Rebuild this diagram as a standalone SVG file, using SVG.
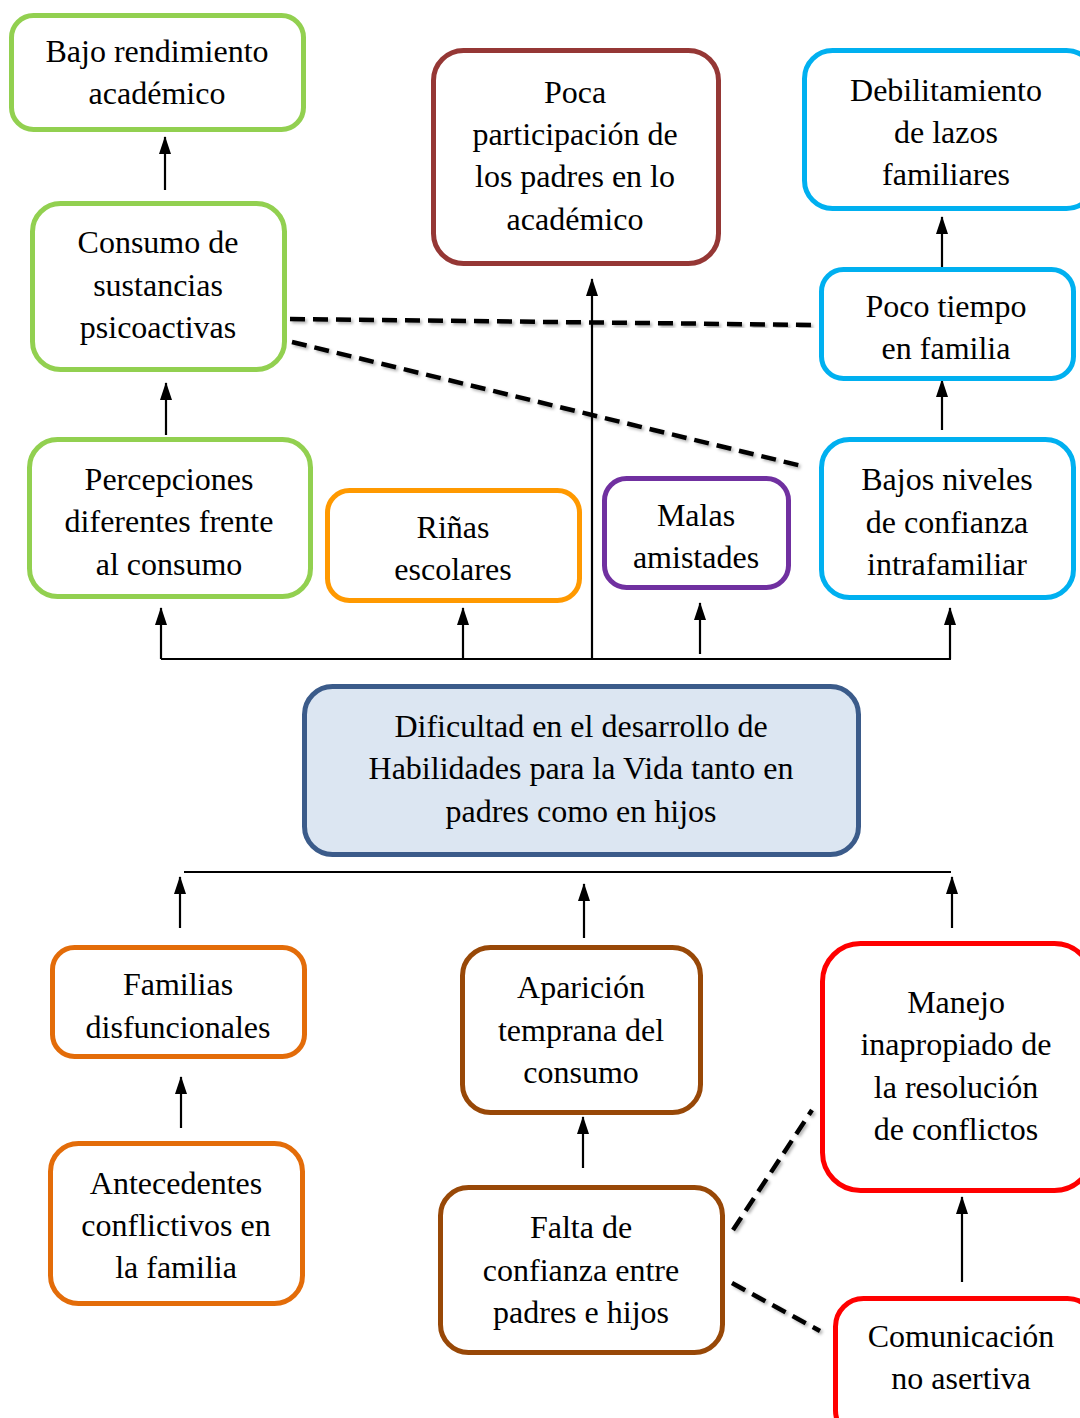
<svg xmlns="http://www.w3.org/2000/svg" width="1080" height="1418" viewBox="0 0 1080 1418">
<defs>
<marker id="ah" viewBox="0 0 18 12" refX="17" refY="6" markerWidth="18" markerHeight="12" markerUnits="userSpaceOnUse" orient="auto">
<path d="M0,0 L18,6 L0,12 Z" fill="#000"/>
</marker>
<filter id="sh" x="-10%" y="-50%" width="120%" height="200%">
<feDropShadow dx="2" dy="2" stdDeviation="1.5" flood-color="#000" flood-opacity="0.3"/>
</filter>
</defs>
<style>
.box{fill:#fff;stroke-width:5}
.t{font-family:'Liberation Serif','DejaVu Serif',serif;font-size:32px;fill:#000;text-anchor:middle}
.ar{stroke:#000;stroke-width:2.2;fill:none}
.ln{stroke:#000;stroke-width:2.2;fill:none}
.dl{stroke:#000;stroke-width:4.5;stroke-dasharray:15,8;fill:none;filter:url(#sh)}
.g{stroke:#92D050}.b{stroke:#00B0F0}.o{stroke:#FF9900}.p{stroke:#7030A0}.dr{stroke:#953735}
.oo{stroke:#E36C09}.br{stroke:#984807}.r{stroke:#FF0000}
</style>
<rect width="1080" height="1418" fill="#fff"/>

<g id="connectors">
<path class="ar" d="M165,190 V137" marker-end="url(#ah)"/>
<path class="dl" d="M307,92 H429"/>
<path class="ar" d="M166,435 V383" marker-end="url(#ah)"/>
<path class="dl" d="M290,319 L817,325"/>
<path class="dl" d="M292,342 L806,467"/>
<path class="ar" d="M942,268 V217" marker-end="url(#ah)"/>
<path class="ar" d="M942,430 V380" marker-end="url(#ah)"/>
<path class="ln" d="M161,659 H951"/>
<path class="ar" d="M161,659 V608" marker-end="url(#ah)"/>
<path class="ar" d="M463,659 V608" marker-end="url(#ah)"/>
<path class="ar" d="M592,659 V279" marker-end="url(#ah)"/>
<path class="ar" d="M700,654 V603" marker-end="url(#ah)"/>
<path class="ar" d="M950,659 V608" marker-end="url(#ah)"/>
<path class="ln" d="M184,872 H951"/>
<path class="ar" d="M180,928 V877" marker-end="url(#ah)"/>
<path class="ar" d="M584,938 V884" marker-end="url(#ah)"/>
<path class="ar" d="M952,928 V877" marker-end="url(#ah)"/>
<path class="ar" d="M181,1128 V1077" marker-end="url(#ah)"/>
<path class="ar" d="M583,1168 V1117" marker-end="url(#ah)"/>
<path class="ar" d="M962,1282 V1197" marker-end="url(#ah)"/>
<path class="dl" d="M733,1230 L812,1110"/>
<path class="dl" d="M732,1283 L820,1331"/>
</g>

<g id="n1"><rect class="box g" x="11.5" y="15.5" width="292" height="114" rx="22"/>
<text class="t" x="157" y="62">Bajo rendimiento</text><text class="t" x="157" y="104">académico</text></g>

<g id="n2"><rect class="box dr" x="433.5" y="50.5" width="285" height="213" rx="30"/>
<text class="t" x="575" y="103">Poca</text><text class="t" x="575" y="145">participación de</text><text class="t" x="575" y="187">los padres en lo</text><text class="t" x="575" y="230">académico</text></g>

<g id="n3"><rect class="box b" x="804.5" y="50.5" width="290" height="158" rx="28"/>
<text class="t" x="946" y="101">Debilitamiento</text><text class="t" x="946" y="143">de lazos</text><text class="t" x="946" y="185">familiares</text></g>

<g id="n4"><rect class="box g" x="32.5" y="203.5" width="252" height="166" rx="28"/>
<text class="t" x="158" y="253">Consumo de</text><text class="t" x="158" y="296">sustancias</text><text class="t" x="158" y="338">psicoactivas</text></g>

<g id="n5"><rect class="box b" x="821.5" y="269.5" width="252" height="109" rx="22"/>
<text class="t" x="946" y="317">Poco tiempo</text><text class="t" x="946" y="359">en familia</text></g>

<g id="n6"><rect class="box g" x="29.5" y="439.5" width="281" height="157" rx="28"/>
<text class="t" x="169" y="490">Percepciones</text><text class="t" x="169" y="532">diferentes frente</text><text class="t" x="169" y="575">al consumo</text></g>

<g id="n7"><rect class="box o" x="327.5" y="490.5" width="252" height="110" rx="22"/>
<text class="t" x="453" y="538">Riñas</text><text class="t" x="453" y="580">escolares</text></g>

<g id="n8"><rect class="box p" x="604.5" y="478.5" width="184" height="109" rx="22"/>
<text class="t" x="696" y="526">Malas</text><text class="t" x="696" y="568">amistades</text></g>

<g id="n9"><rect class="box b" x="821.5" y="439.5" width="252" height="158" rx="28"/>
<text class="t" x="947" y="490">Bajos niveles</text><text class="t" x="947" y="533">de confianza</text><text class="t" x="947" y="575">intrafamiliar</text></g>

<g id="n10"><rect x="304.5" y="686.5" width="554" height="168" rx="28" fill="#DCE6F2" stroke="#3B5B8A" stroke-width="5"/>
<text class="t" x="581" y="737">Dificultad en el desarrollo de</text><text class="t" x="581" y="779">Habilidades para la Vida tanto en</text><text class="t" x="581" y="822">padres como en hijos</text></g>

<g id="n11"><rect class="box oo" x="52.5" y="947.5" width="252" height="109" rx="22"/>
<text class="t" x="178" y="995">Familias</text><text class="t" x="178" y="1038">disfuncionales</text></g>

<g id="n12"><rect class="box br" x="462.5" y="947.5" width="238" height="165" rx="28"/>
<text class="t" x="581" y="998">Aparición</text><text class="t" x="581" y="1041">temprana del</text><text class="t" x="581" y="1083">consumo</text></g>

<g id="n13"><rect class="box r" x="822.5" y="943.5" width="270" height="247" rx="38"/>
<text class="t" x="956" y="1013">Manejo</text><text class="t" x="956" y="1055">inapropiado de</text><text class="t" x="956" y="1098">la resolución</text><text class="t" x="956" y="1140">de conflictos</text></g>

<g id="n14"><rect class="box oo" x="50.5" y="1143.5" width="252" height="160" rx="28"/>
<text class="t" x="176" y="1194">Antecedentes</text><text class="t" x="176" y="1236">conflictivos en</text><text class="t" x="176" y="1278">la familia</text></g>

<g id="n15"><rect class="box br" x="440.5" y="1187.5" width="282" height="165" rx="28"/>
<text class="t" x="581" y="1238">Falta de</text><text class="t" x="581" y="1281">confianza entre</text><text class="t" x="581" y="1323">padres e hijos</text></g>

<g id="n16"><rect class="box r" x="835.5" y="1298.5" width="260" height="140" rx="28"/>
<text class="t" x="961" y="1347">Comunicación</text><text class="t" x="961" y="1389">no asertiva</text></g>
</svg>
